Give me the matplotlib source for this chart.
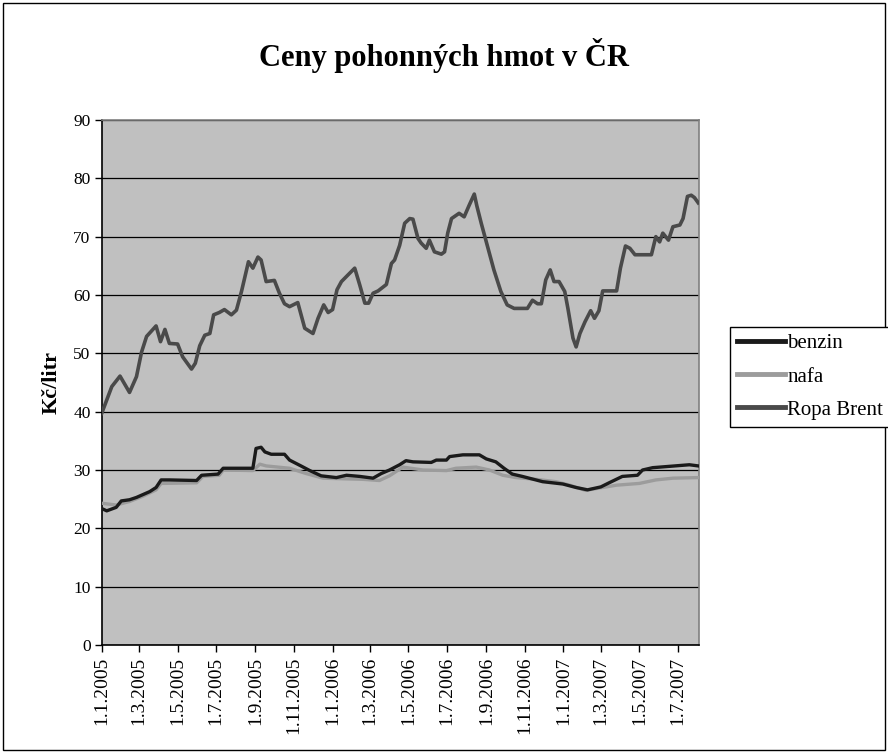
#Ceny pohonných hmot v ČR 2005-2007

import matplotlib
matplotlib.use("Agg")
import matplotlib.pyplot as plt
import pandas as pd
from matplotlib.patches import Rectangle

plt.rcParams['font.family'] = ['Liberation Serif', 'DejaVu Serif']

#Legendy
titulek = 'Ceny pohonných hmot v ČR'
osay = 'Kč/litr'

#Ropa Brent
brent_data = [
    "2005-01-01", "2005-01-17", "2005-01-30", "2005-02-14", "2005-02-25", "2005-03-05",
    "2005-03-13", "2005-03-28", "2005-04-04", "2005-04-11", "2005-04-18", "2005-05-01",
    "2005-05-09", "2005-05-23", "2005-05-29", "2005-06-05", "2005-06-13", "2005-06-21",
    "2005-06-27", "2005-07-06", "2005-07-14", "2005-07-25", "2005-08-02", "2005-08-10",
    "2005-08-18", "2005-08-21", "2005-08-28", "2005-09-05", "2005-09-10", "2005-09-18",
    "2005-10-01", "2005-10-09", "2005-10-17", "2005-10-25", "2005-11-07", "2005-11-18",
    "2005-12-01", "2005-12-09", "2005-12-18", "2005-12-25", "2006-01-01", "2006-01-08",
    "2006-01-15", "2006-01-25", "2006-02-05", "2006-02-13", "2006-02-21", "2006-02-27",
    "2006-03-06", "2006-03-14", "2006-03-27", "2006-04-04", "2006-04-09", "2006-04-17",
    "2006-04-25", "2006-05-03", "2006-05-08", "2006-05-16", "2006-05-21", "2006-05-29",
    "2006-06-03", "2006-06-11", "2006-06-22", "2006-06-27", "2006-07-02", "2006-07-08",
    "2006-07-20", "2006-07-28", "2006-08-05", "2006-08-13", "2006-08-17", "2006-08-24",
    "2006-09-03", "2006-09-13", "2006-09-24", "2006-10-04", "2006-10-15", "2006-11-05",
    "2006-11-13", "2006-11-21", "2006-11-27", "2006-12-04", "2006-12-11", "2006-12-17",
    "2006-12-25", "2007-01-03", "2007-01-08", "2007-01-16", "2007-01-21", "2007-01-27",
    "2007-02-04", "2007-02-13", "2007-02-19", "2007-02-26", "2007-03-04", "2007-03-26",
    "2007-04-01", "2007-04-09", "2007-04-16", "2007-04-24", "2007-05-20", "2007-05-27",
    "2007-06-02", "2007-06-07", "2007-06-16", "2007-06-23", "2007-07-04", "2007-07-09",
    "2007-07-16", "2007-07-22", "2007-07-27", "2007-08-02"]
brent = [
    39.7, 44.3, 46.1, 43.3, 46.0, 50.2,
    52.9, 54.7, 52.0, 54.1, 51.7, 51.6,
    49.4, 47.3, 48.3, 51.3, 53.1, 53.4,
    56.6, 57.0, 57.5, 56.6, 57.4, 60.6,
    64.3, 65.7, 64.6, 66.5, 66.0, 62.3,
    62.5, 60.3, 58.5, 58.0, 58.7, 54.3,
    53.4, 56.0, 58.3, 57.0, 57.5, 60.9,
    62.3, 63.4, 64.6, 61.7, 58.6, 58.6,
    60.3, 60.7, 61.8, 65.4, 66.0, 68.5,
    72.3, 73.1, 73.0, 69.7, 68.9, 68.0,
    69.4, 67.4, 67.0, 67.4, 70.6, 73.1,
    74.0, 73.4, 75.4, 77.3, 75.3, 72.3,
    68.3, 64.3, 60.6, 58.3, 57.7, 57.7,
    59.1, 58.5, 58.5, 62.6, 64.3, 62.3,
    62.3, 60.6, 57.7, 52.6, 51.1, 53.4,
    55.4, 57.3, 56.0, 57.3, 60.7, 60.7,
    64.6, 68.4, 68.0, 66.9, 66.9, 70.0,
    69.1, 70.6, 69.4, 71.7, 72.0, 73.1,
    76.9, 77.1, 76.7, 75.8]

#benzin
benzin_data = [
    "2005-01-01", "2005-01-09", "2005-01-24", "2005-02-01", "2005-02-14", "2005-02-25",
    "2005-03-18", "2005-03-28", "2005-04-05", "2005-04-18", "2005-05-31", "2005-06-08",
    "2005-07-04", "2005-07-12", "2005-08-28", "2005-09-02", "2005-09-10", "2005-09-16",
    "2005-09-26", "2005-10-17", "2005-10-25", "2005-11-12", "2005-11-26", "2005-12-14",
    "2006-01-07", "2006-01-23", "2006-02-13", "2006-03-06", "2006-03-19", "2006-04-01",
    "2006-04-17", "2006-04-27", "2006-05-08", "2006-06-06", "2006-06-14", "2006-06-30",
    "2006-07-05", "2006-07-26", "2006-08-21", "2006-09-01", "2006-09-16", "2006-09-29",
    "2006-10-12", "2006-10-28", "2006-11-29", "2006-12-31", "2007-01-21", "2007-02-08",
    "2007-03-01", "2007-03-14", "2007-04-04", "2007-04-28", "2007-05-06", "2007-05-22",
    "2007-06-26", "2007-07-19", "2007-08-02"]
benzin = [
    23.4, 23.0, 23.6, 24.7, 24.9, 25.3,
    26.3, 27.0, 28.3, 28.3, 28.2, 29.1,
    29.3, 30.3, 30.3, 33.7, 33.9, 33.1,
    32.7, 32.7, 31.7, 30.7, 29.9, 29.0,
    28.7, 29.1, 28.9, 28.6, 29.4, 30.0,
    30.9, 31.6, 31.4, 31.3, 31.7, 31.7,
    32.3, 32.6, 32.6, 31.9, 31.4, 30.3,
    29.3, 28.9, 28.0, 27.6, 27.0, 26.6,
    27.1, 27.8, 28.9, 29.1, 30.0, 30.4,
    30.7, 30.9, 30.7]

#nafta
nafta_data = [
    "2005-01-01", "2005-01-24", "2005-02-14", "2005-03-07", "2005-03-28", "2005-04-05",
    "2005-05-31", "2005-06-10", "2005-07-06", "2005-07-12", "2005-08-28", "2005-09-08",
    "2005-09-18", "2005-10-25", "2005-11-20", "2005-12-17", "2006-01-17", "2006-02-18",
    "2006-03-16", "2006-04-01", "2006-04-22", "2006-05-24", "2006-06-30", "2006-07-15",
    "2006-08-16", "2006-09-06", "2006-09-27", "2006-10-18", "2006-11-19", "2006-12-20",
    "2007-01-11", "2007-02-05", "2007-02-26", "2007-03-26", "2007-05-01", "2007-05-27",
    "2007-06-23", "2007-08-02"]
nafta = [
    24.3, 24.0, 24.6, 25.5, 26.6, 27.7,
    27.8, 28.9, 29.1, 30.0, 29.9, 31.0,
    30.7, 30.3, 29.4, 28.6, 28.5, 28.4,
    28.2, 29.0, 30.5, 30.0, 29.9, 30.3,
    30.5, 30.0, 29.1, 28.7, 28.4, 28.0,
    27.4, 26.5, 26.9, 27.4, 27.7, 28.3,
    28.6, 28.7]

#popisky osy x
popisky = ["1.1.2005", "1.3.2005", "1.5.2005", "1.7.2005", "1.9.2005", "1.11.2005",
           "1.1.2006", "1.3.2006", "1.5.2006", "1.7.2006", "1.9.2006", "1.11.2006",
           "1.1.2007", "1.3.2007", "1.5.2007", "1.7.2007"]

fig = plt.figure(figsize=(8.88, 7.56), dpi=100)
fig.patches.append(Rectangle((0.003, 0.008), 0.994, 0.988, transform=fig.transFigure,
                             fill=False, edgecolor='black', linewidth=1))

ax = fig.add_axes([0.1145, 0.1468, 0.6725, 0.6945])
ax.set_facecolor('#c0c0c0')

ax.plot(pd.to_datetime(benzin_data), benzin, color='#1a1a1a', linewidth=2.4, label='benzin', zorder=4)
ax.plot(pd.to_datetime(nafta_data), nafta, color='#9c9c9c', linewidth=2.4, label='nafa', zorder=3)
ax.plot(pd.to_datetime(brent_data), brent, color='#4a4a4a', linewidth=2.6, label='Ropa Brent', zorder=5)

ax.set_ylim(0, 90)
ax.set_yticks(range(0, 91, 10))
ax.set_xlim(pd.Timestamp("2005-01-01"), pd.Timestamp("2007-08-03"))
ax.set_xticks(pd.to_datetime(popisky, format="%d.%m.%Y"))
ax.set_xticklabels(popisky, rotation=90, fontsize=14)
ax.grid(axis='y', color='black', linewidth=0.9)
ax.set_axisbelow(True)

ax.tick_params(axis='both', direction='out', length=5, width=1, colors='black')
ax.tick_params(axis='y', labelsize=12.5, pad=3)
for s in ['left', 'bottom']:
    ax.spines[s].set_color('black')
    ax.spines[s].set_linewidth(1.2)
for s in ['top', 'right']:
    ax.spines[s].set_color('#808080')
    ax.spines[s].set_linewidth(1.2)

ax.set_ylabel(osay, fontsize=16, fontweight='bold', labelpad=8)
fig.suptitle(titulek, x=0.5, y=0.95, fontsize=22, fontweight='bold')

leg = fig.legend(loc='upper left', bbox_to_anchor=(0.822, 0.568), fontsize=15,
                 frameon=True, fancybox=False, edgecolor='black', framealpha=1,
                 handlelength=2.3, handletextpad=0.1, borderpad=0.35, labelspacing=0.65,
                 borderaxespad=0)
leg.get_frame().set_linewidth(1)
for line in leg.get_lines():
    line.set_linewidth(3.5)

plt.savefig("out.png", dpi=100)
